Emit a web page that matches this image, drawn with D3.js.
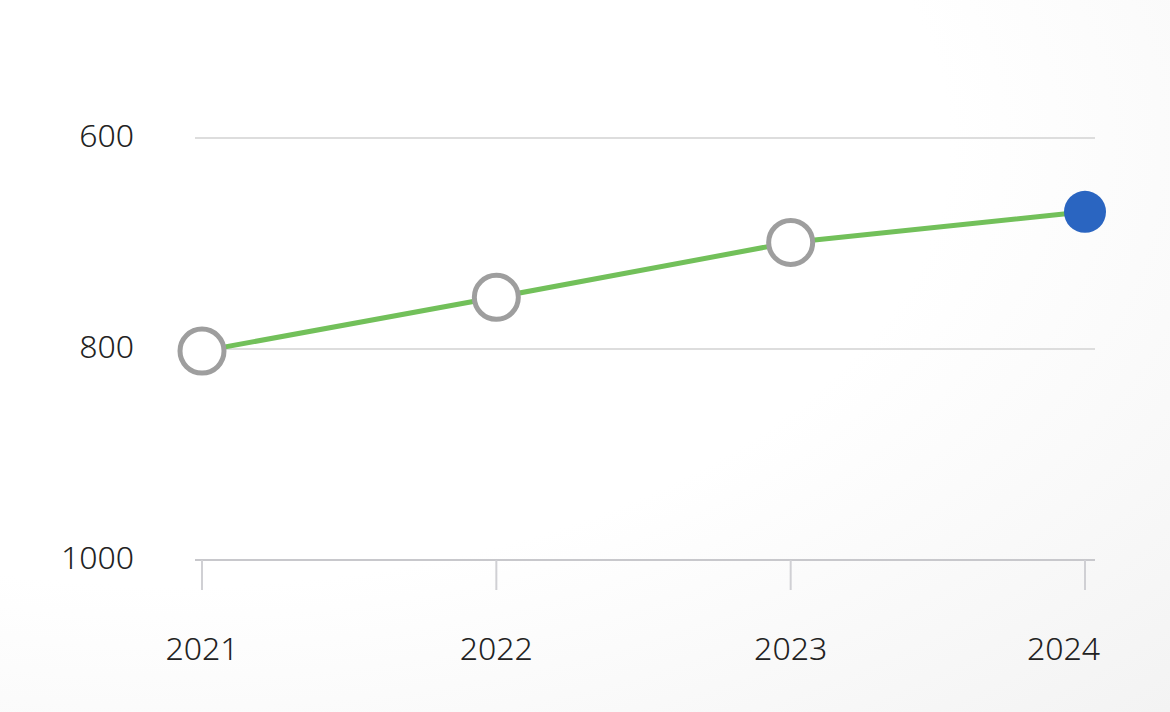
<!DOCTYPE html>
<html>
<head>
<meta charset="utf-8">
<script src="https://cdn.jsdelivr.net/npm/d3@7"></script>
<style>
  html, body { margin: 0; padding: 0; }
  body { width: 1170px; height: 712px; overflow: hidden;
    background: radial-gradient(ellipse at 15% 20%, #ffffff 55%, #f3f3f3 100%); }
  text { font-family: "Noto Sans", Lato, sans-serif; fill: #222; font-weight: 300; }
</style>
</head>
<body>
<script>
var years = ["2021", "2022", "2023", "2024"]
var values = [802, 751, 699, 670]
var yTicks = [600, 800, 1000]

var svg = d3.select("body").append("svg").attr("width", 1170).attr("height", 712)

var x = d3.scalePoint().domain(years).range([202, 1085])
var y = d3.scaleLinear().domain([600, 1000]).range([138, 560])

// gridlines
svg.selectAll(".grid").data(yTicks.slice(0, 2)).enter().append("line")
  .attr("x1", 195).attr("x2", 1095)
  .attr("y1", function (d) { return y(d) }).attr("y2", function (d) { return y(d) })
  .attr("stroke", "#dddddd").attr("stroke-width", 2)

// bottom axis
svg.append("line").attr("x1", 195).attr("x2", 1095).attr("y1", y(1000)).attr("y2", y(1000))
  .attr("stroke", "#c8c8cc").attr("stroke-width", 2)
svg.selectAll(".tick").data(years).enter().append("line")
  .attr("x1", function (d) { return x(d) }).attr("x2", function (d) { return x(d) })
  .attr("y1", y(1000)).attr("y2", y(1000) + 30)
  .attr("stroke", "#d0d0d4").attr("stroke-width", 2)

svg.selectAll(".ylab").data(yTicks).enter().append("text")
  .attr("x", 134).attr("y", function (d) { return y(d) + 9 })
  .attr("text-anchor", "end").attr("font-size", 32)
  .text(function (d) { return d })

// last label is pulled in so it stays inside the plot edge
svg.selectAll(".xlab").data(years).enter().append("text")
  .attr("x", function (d, i) { return i == years.length - 1 ? 1100 : x(d) }).attr("y", 660)
  .attr("text-anchor", function (d, i) { return i == years.length - 1 ? "end" : "middle" })
  .attr("font-size", 32)
  .text(function (d) { return d })

var line = d3.line().x(function (d, i) { return x(years[i]) }).y(function (d) { return y(d) })
svg.append("path").datum(values).attr("d", line)
  .attr("fill", "none").attr("stroke", "#72c05a").attr("stroke-width", 5)

svg.selectAll(".pt").data(values).enter().append("circle")
  .attr("cx", function (d, i) { return x(years[i]) })
  .attr("cy", function (d) { return y(d) })
  .attr("r", function (d, i) { return i == values.length - 1 ? 21 : 22 })
  .attr("fill", function (d, i) { return i == values.length - 1 ? "#2a65c1" : "#fff" })
  .attr("stroke", function (d, i) { return i == values.length - 1 ? "none" : "#9e9e9e" })
  .attr("stroke-width", 5)
</script>
</body>
</html>
